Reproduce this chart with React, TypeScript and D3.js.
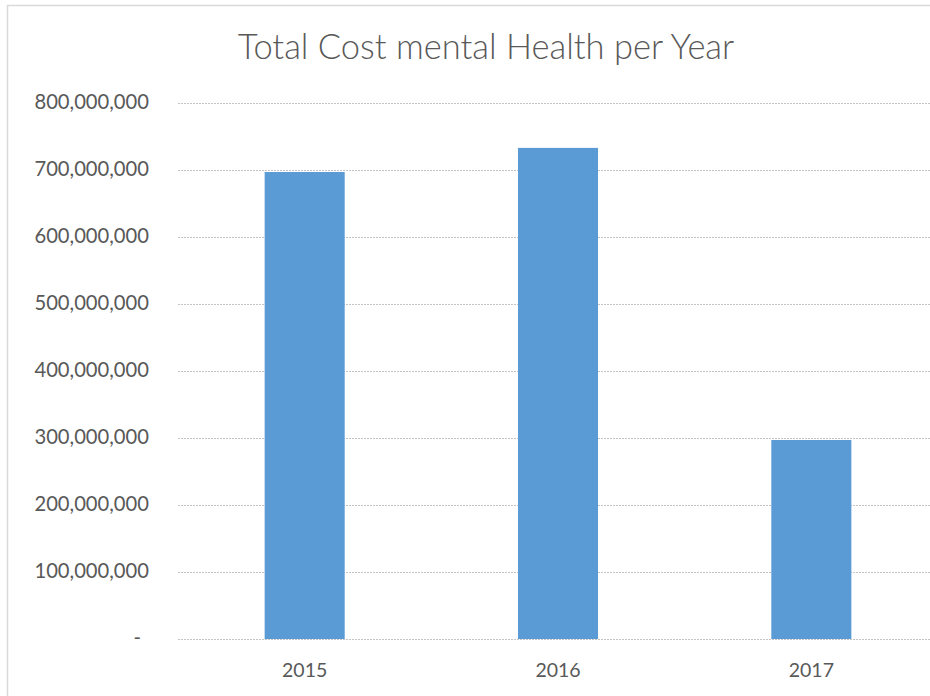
import * as d3 from "d3";
import { useEffect, useRef } from "react";

const years = ["2015", "2016", "2017"];
const totalCost = [697000000, 733000000, 297000000];
const yTicks = [0, 100000000, 200000000, 300000000, 400000000, 500000000, 600000000, 700000000, 800000000];
const title = "Total Cost mental Health per Year";

export default function App() {
  const svgRef = useRef<SVGSVGElement | null>(null);

  useEffect(() => {
    if (!svgRef.current) return;
    const width = 930;
    const height = 696;
    const font = "Lato, 'Open Sans', sans-serif";
    const textColor = "#595959";

    const svg = d3.select(svgRef.current);
    svg.selectAll("*").remove();

    // chart frame, cut off on the right and bottom like the screenshot
    svg
      .append("rect")
      .attr("x", 7.5)
      .attr("y", 5.5)
      .attr("width", width + 20)
      .attr("height", height + 20)
      .attr("fill", "#fff")
      .attr("stroke", "#d9d9d9")
      .attr("stroke-width", 1.5);

    const x = d3.scaleBand<string>().domain(years).range([178, 938]).paddingInner(0.684).paddingOuter(0.342);
    const y = d3.scaleLinear().domain([0, 800000000]).range([639, 103]);

    svg
      .append("text")
      .attr("x", 486)
      .attr("y", 59)
      .attr("text-anchor", "middle")
      .attr("font-family", font)
      .attr("font-weight", 300)
      .attr("font-size", 34.5)
      .attr("fill", textColor)
      .text(title);

    const grid = svg.append("g");
    grid
      .selectAll("line")
      .data(yTicks)
      .enter()
      .append("line")
      .attr("x1", 178)
      .attr("x2", 938)
      .attr("y1", (d) => Math.round(y(d)) + 0.5)
      .attr("y2", (d) => Math.round(y(d)) + 0.5)
      .attr("stroke", "#c4c4c4")
      .attr("stroke-width", 1)
      .attr("stroke-dasharray", "2 1");

    const fmt = d3.format(",");
    svg
      .append("g")
      .selectAll("text")
      .data(yTicks)
      .enter()
      .append("text")
      .attr("x", (d) => (d === 0 ? 141 : 149))
      .attr("y", (d) => y(d))
      .attr("dy", "0.3em")
      .attr("text-anchor", "end")
      .attr("font-family", font)
      .attr("font-size", 20.2)
      .attr("fill", textColor)
      .text((d) => (d === 0 ? "-" : fmt(d)));

    svg
      .append("g")
      .selectAll("rect")
      .data(years)
      .enter()
      .append("rect")
      .attr("x", (d) => x(d) ?? 0)
      .attr("width", x.bandwidth())
      .attr("y", (_, i) => y(totalCost[i]))
      .attr("height", (_, i) => y(0) - y(totalCost[i]))
      .attr("fill", "#5b9bd5");

    svg
      .append("g")
      .selectAll("text")
      .data(years)
      .enter()
      .append("text")
      .attr("x", (d) => (x(d) ?? 0) + x.bandwidth() / 2)
      .attr("y", 677)
      .attr("text-anchor", "middle")
      .attr("font-family", font)
      .attr("font-size", 19.5)
      .attr("fill", textColor)
      .text((d) => d);
  }, []);

  return (
    <svg
      ref={svgRef}
      width={930}
      height={696}
      style={{ position: "absolute", left: 0, top: 0, background: "#fff" }}
    />
  );
}
